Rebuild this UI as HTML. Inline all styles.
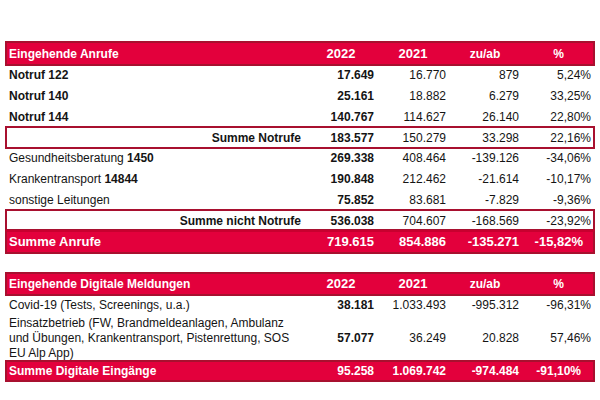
<!DOCTYPE html>
<html><head><meta charset="utf-8"><style>
html,body{margin:0;padding:0;background:#fff;width:600px;height:400px;overflow:hidden;position:relative}
.bx{position:absolute;left:5px;width:590px;box-sizing:border-box}
.t{position:absolute;font-family:"Liberation Sans",sans-serif;font-size:12px;line-height:12px;white-space:nowrap;color:#141414}
.b{font-weight:bold}
.w{color:#fff}
.f13{font-size:13px;line-height:13px}
</style></head><body>
<div class="bx" style="top:41px;height:24.5px;background:#e3003c;border:2px solid #a8102f;"></div>
<div class="bx" style="top:126px;height:22.5px;background:#fff;border:2px solid #a8102f;"></div>
<div class="bx" style="top:209px;height:22px;background:#fff;border:2px solid #a8102f;"></div>
<div class="bx" style="top:229.5px;height:24px;background:#e3003c;border:2px solid #a8102f;border-top-color:#c8002f"></div>
<div class="bx" style="top:271.5px;height:24.5px;background:#e3003c;border:2px solid #a8102f;"></div>
<div class="bx" style="top:359.5px;height:22.8px;background:#e3003c;border:2px solid #a8102f;"></div>
<div class="t b w" style="top:48px;left:9px;">Eingehende Anrufe</div>
<div class="t b w f13" style="top:47px;left:291px;width:100px;text-align:center;">2022</div>
<div class="t b w f13" style="top:47px;left:363px;width:100px;text-align:center;">2021</div>
<div class="t b w" style="top:48px;left:435px;width:100px;text-align:center;">zu/ab</div>
<div class="t b w" style="top:48px;left:508.5px;width:100px;text-align:center;">%</div>
<div class="t b" style="top:69px;left:9px;">Notruf 122</div>
<div class="t b" style="top:69px;right:226px;text-align:right;">17.649</div>
<div class="t r" style="top:69px;right:154px;text-align:right;">16.770</div>
<div class="t r" style="top:69px;right:81px;text-align:right;">879</div>
<div class="t r" style="top:69px;right:9px;text-align:right;">5,24%</div>
<div class="t b" style="top:90px;left:9px;">Notruf 140</div>
<div class="t b" style="top:90px;right:226px;text-align:right;">25.161</div>
<div class="t r" style="top:90px;right:154px;text-align:right;">18.882</div>
<div class="t r" style="top:90px;right:81px;text-align:right;">6.279</div>
<div class="t r" style="top:90px;right:9px;text-align:right;">33,25%</div>
<div class="t b" style="top:111px;left:9px;">Notruf 144</div>
<div class="t b" style="top:111px;right:226px;text-align:right;">140.767</div>
<div class="t r" style="top:111px;right:154px;text-align:right;">114.627</div>
<div class="t r" style="top:111px;right:81px;text-align:right;">26.140</div>
<div class="t r" style="top:111px;right:9px;text-align:right;">22,80%</div>
<div class="t b" style="top:132px;right:299px;text-align:right;">Summe Notrufe</div>
<div class="t b" style="top:132px;right:226px;text-align:right;">183.577</div>
<div class="t r" style="top:132px;right:154px;text-align:right;">150.279</div>
<div class="t r" style="top:132px;right:81px;text-align:right;">33.298</div>
<div class="t r" style="top:132px;right:9px;text-align:right;">22,16%</div>
<div class="t r" style="top:152px;left:9px;">Gesundheitsberatung <b>1450</b></div>
<div class="t b" style="top:152px;right:226px;text-align:right;">269.338</div>
<div class="t r" style="top:152px;right:154px;text-align:right;">408.464</div>
<div class="t r" style="top:152px;right:81px;text-align:right;">-139.126</div>
<div class="t r" style="top:152px;right:9px;text-align:right;">-34,06%</div>
<div class="t r" style="top:173px;left:9px;">Krankentransport <b>14844</b></div>
<div class="t b" style="top:173px;right:226px;text-align:right;">190.848</div>
<div class="t r" style="top:173px;right:154px;text-align:right;">212.462</div>
<div class="t r" style="top:173px;right:81px;text-align:right;">-21.614</div>
<div class="t r" style="top:173px;right:9px;text-align:right;">-10,17%</div>
<div class="t r" style="top:194px;left:9px;">sonstige Leitungen</div>
<div class="t b" style="top:194px;right:226px;text-align:right;">75.852</div>
<div class="t r" style="top:194px;right:154px;text-align:right;">83.681</div>
<div class="t r" style="top:194px;right:81px;text-align:right;">-7.829</div>
<div class="t r" style="top:194px;right:9px;text-align:right;">-9,36%</div>
<div class="t b" style="top:215px;right:299px;text-align:right;">Summe nicht Notrufe</div>
<div class="t b" style="top:215px;right:226px;text-align:right;">536.038</div>
<div class="t r" style="top:215px;right:154px;text-align:right;">704.607</div>
<div class="t r" style="top:215px;right:81px;text-align:right;">-168.569</div>
<div class="t r" style="top:215px;right:9px;text-align:right;">-23,92%</div>
<div class="t b w f13" style="top:235px;left:9px;">Summe Anrufe</div>
<div class="t b w f13" style="top:235px;right:226px;text-align:right;">719.615</div>
<div class="t b w f13" style="top:235px;right:154px;text-align:right;">854.886</div>
<div class="t b w f13" style="top:235px;right:81px;text-align:right;">-135.271</div>
<div class="t b w f13" style="top:235px;right:17px;text-align:right;">-15,82%</div>
<div class="t b w" style="top:278px;left:9px;">Eingehende Digitale Meldungen</div>
<div class="t b w f13" style="top:277px;left:291px;width:100px;text-align:center;">2022</div>
<div class="t b w f13" style="top:277px;left:363px;width:100px;text-align:center;">2021</div>
<div class="t b w" style="top:278px;left:435px;width:100px;text-align:center;">zu/ab</div>
<div class="t b w" style="top:278px;left:508.5px;width:100px;text-align:center;">%</div>
<div class="t r" style="top:299px;left:9px;">Covid-19 (Tests, Screenings, u.a.)</div>
<div class="t b" style="top:299px;right:226px;text-align:right;">38.181</div>
<div class="t r" style="top:299px;right:154px;text-align:right;">1.033.493</div>
<div class="t r" style="top:299px;right:81px;text-align:right;">-995.312</div>
<div class="t r" style="top:299px;right:9px;text-align:right;">-96,31%</div>
<div class="t r" style="top:317px;left:9px;">Einsatzbetrieb (FW, Brandmeldeanlagen, Ambulanz</div>
<div class="t r" style="top:332px;left:9px;">und Übungen, Krankentransport, Pistenrettung, SOS</div>
<div class="t r" style="top:347px;left:9px;">EU Alp App)</div>
<div class="t b" style="top:332px;right:226px;text-align:right;">57.077</div>
<div class="t r" style="top:332px;right:154px;text-align:right;">36.249</div>
<div class="t r" style="top:332px;right:81px;text-align:right;">20.828</div>
<div class="t r" style="top:332px;right:9px;text-align:right;">57,46%</div>
<div class="t b w" style="top:365px;left:9px;">Summe Digitale Eingänge</div>
<div class="t b w" style="top:365px;right:226px;text-align:right;">95.258</div>
<div class="t b w" style="top:365px;right:154px;text-align:right;">1.069.742</div>
<div class="t b w" style="top:365px;right:81px;text-align:right;">-974.484</div>
<div class="t b w" style="top:365px;right:19px;text-align:right;">-91,10%</div>
</body></html>
